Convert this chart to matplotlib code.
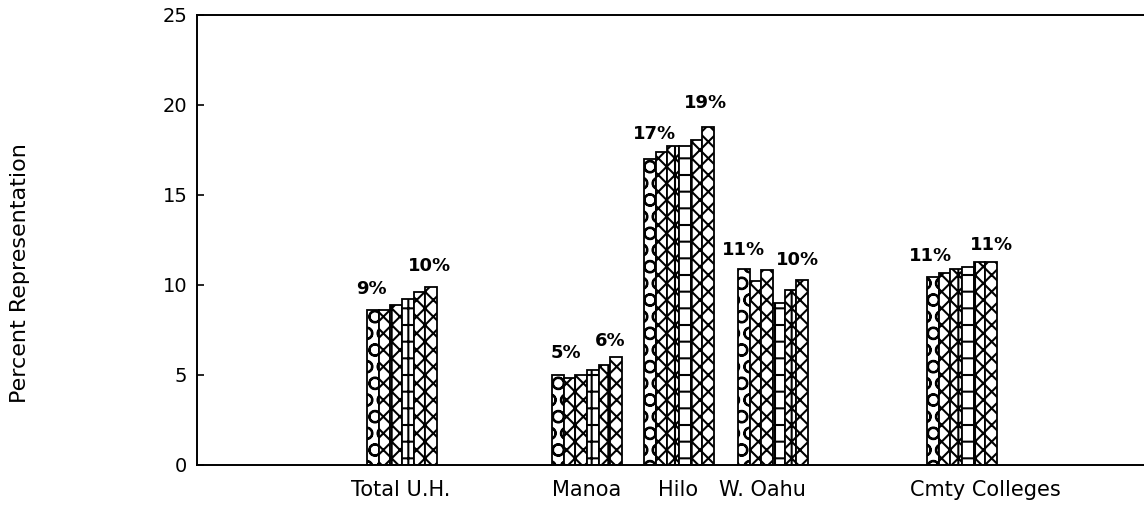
import matplotlib.pyplot as plt

plt.rcParams['font.family'] = ['DejaVu Sans']
plt.rcParams['hatch.linewidth'] = 1.5

# data: six yearly bars per campus (percent representation)
campuses = ['Total U.H.', 'Manoa', 'Hilo', 'W. Oahu', 'Cmty Colleges']
total_uh = [8.6, 8.6, 8.9, 9.2, 9.6, 9.9]
manoa = [5.0, 4.85, 5.0, 5.3, 5.55, 6.0]
hilo = [17.0, 17.4, 17.7, 17.75, 18.05, 18.8]
w_oahu = [10.9, 10.2, 10.85, 9.0, 9.7, 10.3]
cmty = [10.45, 10.65, 10.9, 11.0, 11.3, 11.3]
series = [total_uh, manoa, hilo, w_oahu, cmty]
first_labels = ['9%', '5%', '17%', '11%', '11%']
last_labels = ['10%', '6%', '19%', '10%', '11%']

# layout (x in pixel-like units across the axes)
group_x = [402, 587, 679, 773, 962]
label_x = [401, 587, 678, 762, 985]
bar_w = 11.7
hatches = ['O', 'xx', 'xx|', '|-', 'xx|', 'xx']
first_off = [(-1, 21), (8, 22), (5, 25), (0, 19), (-2, 21)]
last_off = [(-2, 21), (-6, 16), (-3, 24), (-5, 20), (0, 17)]

fig = plt.figure(figsize=(11.44, 5.13), dpi=100)
ax = fig.add_axes([197/1144, 48/513, 947/1144, 450/513])

for g, vals in enumerate(series):
    xs = [group_x[g] + (i - 2.5) * bar_w for i in range(len(vals))]
    for i, (x, v) in enumerate(zip(xs, vals)):
        ax.bar(x, v, width=bar_w, color='white', edgecolor='black',
               linewidth=1.3, hatch=hatches[i])
    ax.annotate(first_labels[g], (xs[0], vals[0]), xytext=first_off[g],
                textcoords='offset pixels', ha='center', va='center',
                fontsize=13, fontweight='bold')
    ax.annotate(last_labels[g], (xs[-1], vals[-1]), xytext=last_off[g],
                textcoords='offset pixels', ha='center', va='center',
                fontsize=13, fontweight='bold')

ax.set_xlim(197, 1144)
ax.set_ylim(0, 25)
ax.set_yticks([0, 5, 10, 15, 20, 25])
ax.set_xticks(label_x)
ax.set_xticklabels(campuses, fontsize=15)
ax.tick_params(axis='y', direction='in', length=5, width=1.2, labelsize=14, pad=7)
ax.tick_params(axis='x', length=0, pad=11)
ax.spines['right'].set_visible(False)
for s in ['left', 'top', 'bottom']:
    ax.spines[s].set_linewidth(1.4)

fig.text(20/1144, 1 - 273/513, 'Percent Representation', rotation=90,
         ha='center', va='center', fontsize=16)

fig.savefig('out.png', dpi=100)
